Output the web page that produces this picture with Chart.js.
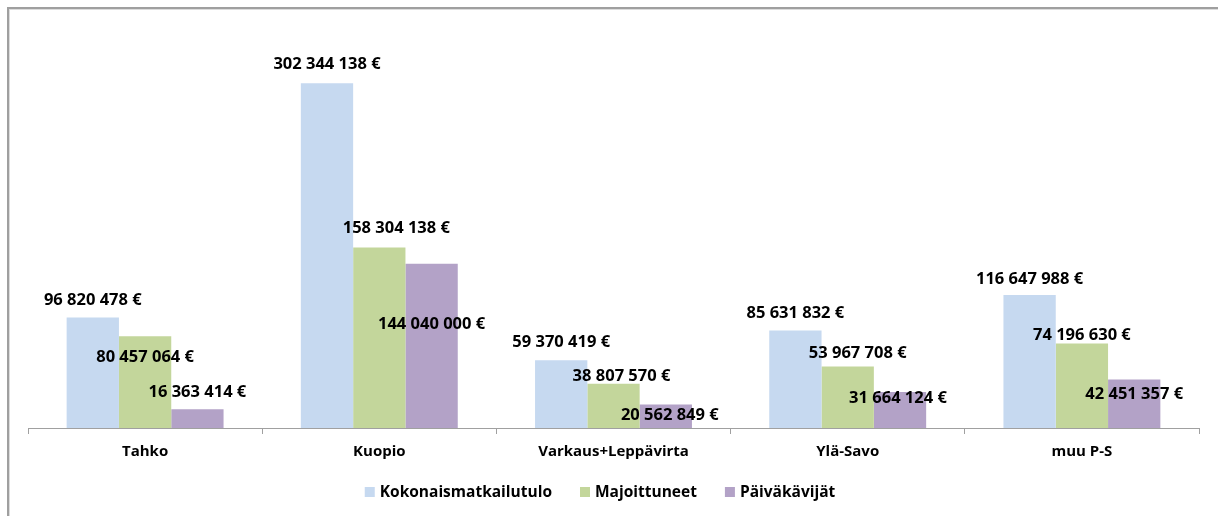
<!DOCTYPE html>
<html>
<head>
<meta charset="utf-8">
<script src="https://cdn.jsdelivr.net/npm/chart.js@4.4.1/dist/chart.umd.min.js"></script>
<style>
  html, body { margin: 0; padding: 0; background: #fff; }
  #wrap { position: relative; width: 1218px; height: 516px; }
</style>
</head>
<body>
<div id="wrap"><canvas id="graph"></canvas></div>
<script>
const categories = ['Tahko', 'Kuopio', 'Varkaus+Leppävirta', 'Ylä-Savo', 'muu P-S'];
const seriesNames = ['Kokonaismatkailutulo', 'Majoittuneet', 'Päiväkävijät'];
const kokonaismatkailutulo = [96820478, 302344138, 59370419, 85631832, 116647988];
const majoittuneet = [80457064, 158304138, 38807570, 53967708, 74196630];
const paivakavijat = [16363414, 144040000, 20562849, 31664124, 42451357];

const colors = ['rgb(198, 217, 240)', 'rgb(195, 214, 155)', 'rgb(179, 162, 199)'];
const FONT = "'Open Sans', sans-serif";

// label nudges (px) from bar top, the labels were hand placed in the original
const labelDx = [
  [0, 0, 0, 0, 0],
  [0, 17, 8, 10, 0],
  [0, 0, 4, -2, 0]
];
const labelDy = [
  [-19, -20, -19, -18, -17],
  [20, -20, -9, -14, -9],
  [-18, 59, 10, 5, 13]
];

function euro(n) {
  return String(n).replace(/\B(?=(\d{3})+(?!\d))/g, ' ') + ' €';
}

const framePlugin = {
  id: 'frame',
  beforeDraw(chart) {
    const ctx = chart.ctx;
    ctx.save();
    ctx.fillStyle = '#9f9f9f';
    ctx.fillRect(7, 7, 2, chart.height);
    ctx.fillRect(7, 7, chart.width, 2);
    ctx.fillStyle = '#dcdcdc';
    ctx.fillRect(9, 9, 1, chart.height);
    ctx.fillRect(9, 9, chart.width, 1);
    ctx.restore();
  }
};

const valueLabels = {
  id: 'valueLabels',
  afterDatasetsDraw(chart) {
    const ctx = chart.ctx;
    ctx.save();
    ctx.font = 'bold 16.5px ' + FONT;
    ctx.fillStyle = '#000';
    ctx.textAlign = 'center';
    ctx.textBaseline = 'alphabetic';
    chart.data.datasets.forEach((ds, i) => {
      const meta = chart.getDatasetMeta(i);
      meta.data.forEach((bar, j) => {
        const x = bar.x + labelDx[i][j];
        const y = bar.y + labelDy[i][j] + 5.9;
        ctx.fillText(euro(ds.data[j]), x, y);
      });
    });
    ctx.restore();
  }
};

const bottomLegend = {
  id: 'bottomLegend',
  afterDraw(chart) {
    const ctx = chart.ctx;
    ctx.save();
    ctx.font = 'bold 15.5px ' + FONT;
    ctx.textBaseline = 'middle';
    ctx.textAlign = 'left';
    const box = 10, gap = 5, spacing = 28;
    const items = chart.data.datasets.map(ds => ({
      text: ds.label,
      color: ds.backgroundColor,
      w: box + gap + ctx.measureText(ds.label).width
    }));
    const total = items.reduce((s, it) => s + it.w, 0) + spacing * (items.length - 1);
    let x = 600 - total / 2;
    const y = 492;
    items.forEach(it => {
      ctx.fillStyle = it.color;
      ctx.fillRect(x, y - box / 2, box, box);
      ctx.fillStyle = '#000';
      ctx.fillText(it.text, x + box + gap, y + 1);
      x += it.w + spacing;
    });
    ctx.restore();
  }
};

const seriesValues = [kokonaismatkailutulo, majoittuneet, paivakavijat];

new Chart(document.getElementById('graph'), {
  type: 'bar',
  data: {
    labels: categories,
    datasets: seriesNames.map((name, i) => ({
      label: name,
      data: seriesValues[i],
      backgroundColor: colors[i],
      borderWidth: 0,
      categoryPercentage: 0.67,
      barPercentage: 1.0
    }))
  },
  options: {
    responsive: true,
    maintainAspectRatio: false,
    animation: false,
    layout: { padding: { left: 28, right: 19, top: 29, bottom: 46 } },
    plugins: {
      legend: { display: false },
      tooltip: { enabled: false }
    },
    scales: {
      x: {
        grid: {
          drawOnChartArea: false,
          drawTicks: true,
          tickLength: 6,
          color: '#a0a0a0',
          offset: true
        },
        border: { display: true, color: '#a0a0a0', width: 1 },
        ticks: {
          padding: 9,
          color: '#000',
          font: { family: FONT, size: 15, weight: 'bold' }
        }
      },
      y: {
        display: false,
        min: 0,
        max: 350000000
      }
    }
  },
  plugins: [framePlugin, valueLabels, bottomLegend]
});
</script>
</body>
</html>
